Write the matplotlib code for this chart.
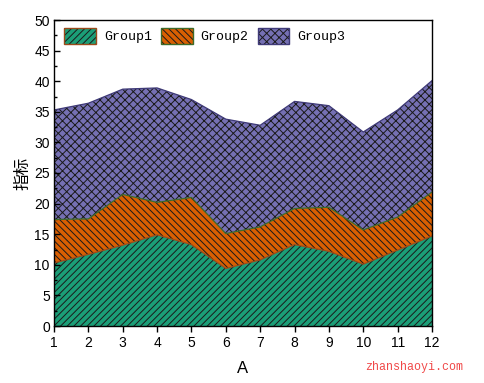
import matplotlib
matplotlib.use("Agg")
import matplotlib.pyplot as plt
from matplotlib.patches import Patch
from matplotlib.legend_handler import HandlerTuple
import numpy as np

x = [1, 2, 3, 4, 5, 6, 7, 8, 9, 10, 11, 12]
group1 = [10.3, 11.7, 13.2, 14.9, 13.3, 9.4, 10.8, 13.3, 12.2, 10.1, 12.4, 14.7]
group2 = [7.1, 5.8, 8.3, 5.3, 7.7, 5.7, 5.4, 5.9, 7.2, 5.6, 5.4, 7.2]
group3 = [17.9, 18.9, 17.2, 18.7, 16.0, 18.7, 16.6, 17.5, 16.6, 16.0, 17.5, 18.2]
names = ["Group1", "Group2", "Group3"]
colors = ["#1b9e77", "#d95f02", "#7570b3"]
edges = ["#9a4a1a", "#3d6b2a", "#3f3a78"]
hatches = ["/////", "\\\\\\\\\\", "xxxx"]

plt.rcParams["hatch.linewidth"] = 0.7
plt.rcParams["font.family"] = ["Liberation Sans", "DejaVu Sans"]

fig = plt.figure(figsize=(4.85, 3.83), dpi=100)
ax = fig.add_axes([54/485, 1-326/383, (432-54)/485, (326-20)/383])

series = [group1, group2, group3]
base = np.zeros(len(x))
handles = []
for s, c, e, h, n in zip(series, colors, edges, hatches, names):
    top = base + np.array(s)
    ax.fill_between(x, base, top, facecolor=c, edgecolor="#1a1a1a", hatch=h, linewidth=0)
    ax.plot(x, top, color=e, lw=0.9)
    hp = Patch(facecolor=c, edgecolor="#1a1a1a", hatch=h, linewidth=0)
    ep = Patch(facecolor="none", edgecolor=e, linewidth=1.0)
    handles.append((hp, ep))
    base = top

ax.set_xlim(1, 12)
ax.set_ylim(0, 50)
ax.set_xticks(x)
ax.set_yticks(np.arange(0, 51, 5))
ax.set_yticks(np.arange(2.5, 50, 5), minor=True)
ax.tick_params(axis="x", direction="out", length=4, width=1, labelsize=10, pad=3)
ax.tick_params(axis="y", which="major", direction="in", length=4, width=1, labelsize=10, pad=3)
ax.tick_params(axis="y", which="minor", direction="in", length=2, width=1)
for sp in ax.spines.values():
    sp.set_linewidth(1.0)

ax.set_xlabel("A", fontsize=12, labelpad=8)
ax.set_ylabel("指标", fontsize=12, family=["Noto Sans CJK SC", "DejaVu Sans"], labelpad=2)

ax.legend(handles, names, loc="upper left", ncol=3, frameon=False,
          handler_map={tuple: HandlerTuple(ndivide=1)},
          prop={"family": "Liberation Mono", "size": 9.5},
          handlelength=2.4, handleheight=1.5, handletextpad=0.6, columnspacing=0.7,
          borderaxespad=0.2, bbox_to_anchor=(0.006, 1.0))

fig.text(414/485, 1-367/383, "zhanshaoyi.com", color="#f04848", fontsize=8.4,
         family="Liberation Mono", ha="center", va="center")

fig.savefig("out.png", dpi=100)
